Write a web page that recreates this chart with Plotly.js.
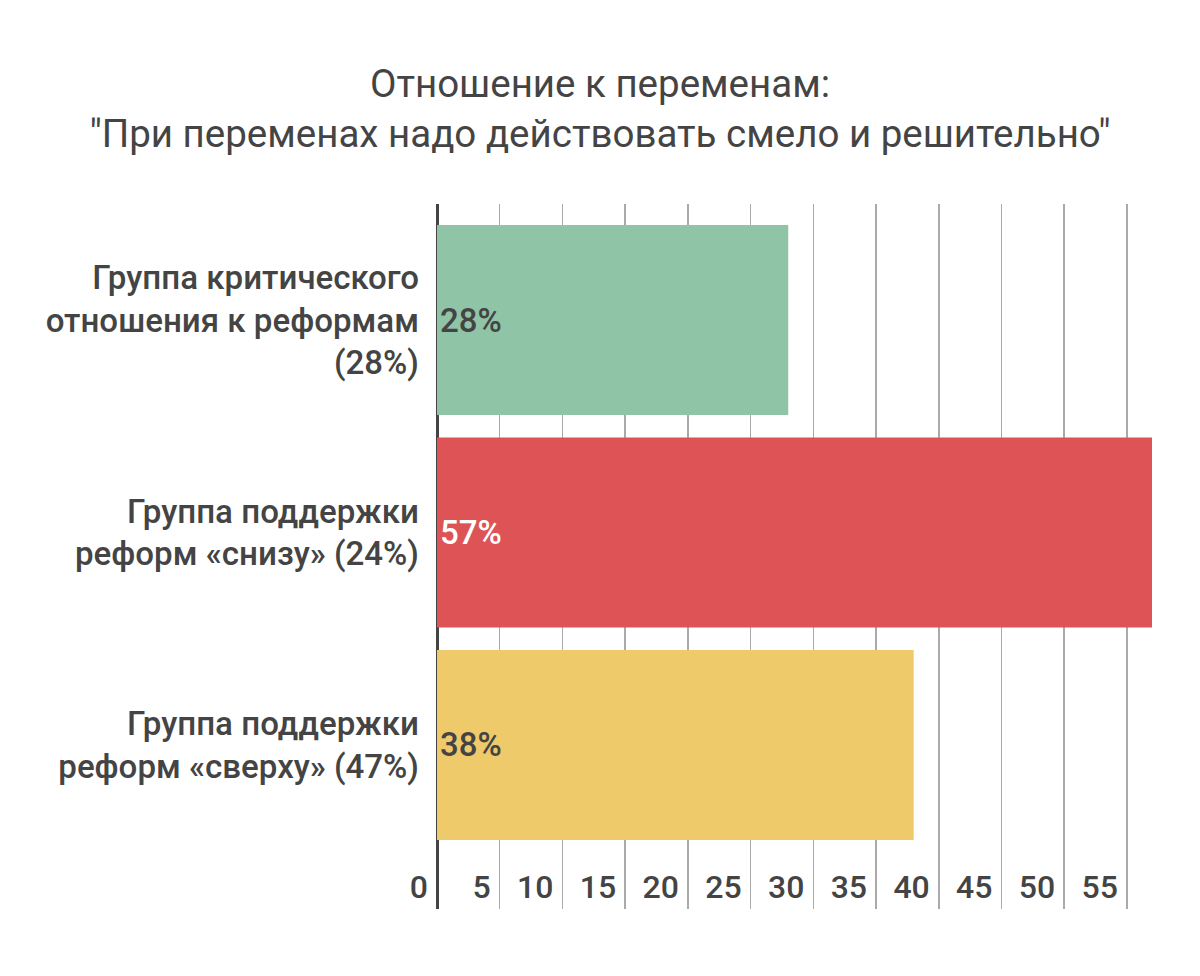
<!DOCTYPE html>
<html>
<head>
<meta charset="utf-8">
<script src="https://cdn.plot.ly/plotly-3.0.1.min.js"></script>
<style>html,body{margin:0;padding:0;background:#fff;}#chart{width:1200px;height:976px;}</style>
</head>
<body>
<div id="chart"></div>
<script>
var categories = [
  "Группа критического<br>отношения к реформам<br>(28%)",
  "Группа поддержки<br>реформ «снизу» (24%)",
  "Группа поддержки<br>реформ «сверху» (47%)"
];
var values = [28, 57, 38];
var barLabels = ["28%", "57%", "38%"];
var barColors = ["#8FC4A7", "#DD5356", "#EECA6A"];
var labelColors = ["#444444", "#ffffff", "#444444"];
var xTicks = [0, 5, 10, 15, 20, 25, 30, 35, 40, 45, 50, 55];

var FONT = "Roboto, 'Noto Sans', sans-serif";
var FONT_MED = "'Roboto Medium', Roboto, 'Noto Sans', sans-serif";

var trace = {
  type: "bar",
  orientation: "h",
  x: values,
  y: categories,
  text: barLabels,
  textposition: "inside",
  insidetextanchor: "start",
  textfont: {family: FONT_MED, size: 33, color: labelColors},
  marker: {color: barColors, line: {width: 0}},
  hoverinfo: "none",
  cliponaxis: false
};

var layout = {
  width: 1200,
  height: 976,
  paper_bgcolor: "#ffffff",
  plot_bgcolor: "#ffffff",
  margin: {l: 437, r: 48, t: 204, b: 67, pad: 0},
  showlegend: false,
  bargap: 0.106,
  font: {family: FONT, color: "#444444"},
  title: {
    text: "Отношение к переменам:<br>\"При переменах надо действовать смело и решительно\"",
    font: {family: FONT, size: 38.5, color: "#444444"},
    x: 0.5, xref: "container", xanchor: "center",
    y: 1 - 97/976, yref: "container", yanchor: "top"
  },
  xaxis: {
    range: [0, 57],
    tickvals: xTicks,
    ticktext: xTicks.map(String),
    ticks: "",
    showgrid: true,
    gridcolor: "#AAAAAA",
    gridwidth: 1.5,
    zeroline: true,
    zerolinecolor: "#444444",
    zerolinewidth: 3,
    showline: false,
    ticklabelposition: "inside left",
    ticklabeloverflow: "allow",
    ticklabelstandoff: -1,
    ticklabelshift: -9,
    tickfont: {family: FONT_MED, size: 32, color: "#444444"},
    fixedrange: true
  },
  yaxis: {
    type: "category",
    categoryorder: "array",
    categoryarray: categories,
    range: [2.772, -0.546],
    autorange: false,
    showgrid: false,
    zeroline: false,
    showline: false,
    ticks: "",
    ticklabelstandoff: 17,
    tickfont: {family: FONT_MED, size: 33, color: "#444444"},
    fixedrange: true
  }
};

Plotly.newPlot("chart", [trace], layout, {displayModeBar: false, staticPlot: true});
</script>
</body>
</html>
